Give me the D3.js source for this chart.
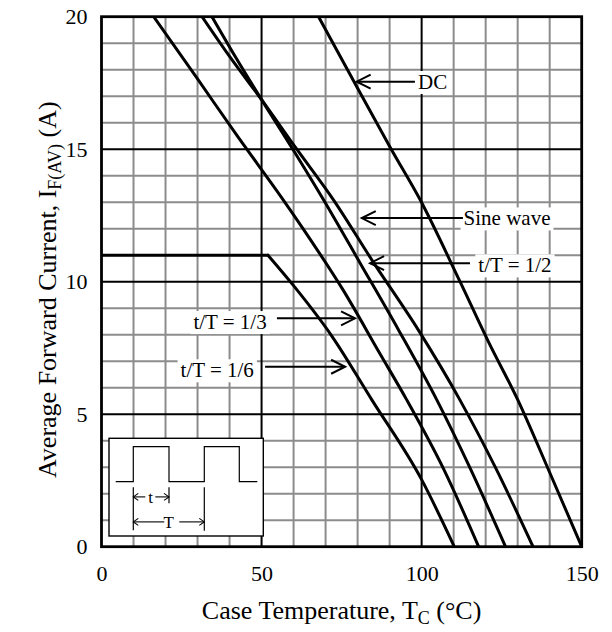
<!DOCTYPE html>
<html>
<head>
<meta charset="utf-8">
<script src="https://cdn.jsdelivr.net/npm/d3@7"></script>
<style>
  html, body { margin: 0; padding: 0; background: #fff; }
  svg { display: block; }
  text { font-family: "Liberation Serif", "Times New Roman", serif; fill: #000; }
</style>
</head>
<body>
<svg id="chart" width="612" height="632"></svg>
<script>
// ---------------- data ----------------
const xTicks = [0, 50, 100, 150];
const yTicks = [0, 5, 10, 15, 20];
const xMinor = d3.range(0, 151, 10);
const yMinor = d3.range(0, 21, 1);
const xMajor = [50, 100];
const yMajor = [5, 10, 15];

// Case temperature (°C) and average forward current (A)
const dcT   = [67.8, 80, 90.5, 99.5, 112, 121, 130, 140, 150];
const dcI   = [20, 17.3, 15, 13.1, 10, 7.7, 5.55, 2.8, 0];
const sineT = [31.4, 40, 50, 61, 72.4, 85.1, 98.9, 111.9, 123, 134.8];
const sineI = [20, 18.5, 16.87, 15.0, 13.1, 10.7, 8.19, 5.55, 3.0, 0];
const halfT = [34.5, 42, 50, 60, 69.3, 80.8, 92.7, 104.7, 115, 126.2];
const halfI = [20, 18.45, 16.87, 14.95, 13.1, 10.7, 8.2, 5.55, 3.0, 0];
const thirdT = [16.3, 30, 42.3, 56.7, 65.2, 75.4, 86.9, 95.3, 107, 117.8];
const thirdI = [20, 17.65, 15.52, 13.1, 11.6, 9.7, 7.3, 5.55, 2.9, 0];
const sixthFlatT = [0, 52];
const sixthFlatI = [11, 11];
const sixthT = [52, 60, 72, 84.4, 100, 110.2];
const sixthI = [11, 9.85, 7.94, 5.55, 2.53, 0];

const seriesNames = ["DC", "Sine wave", "t/T = 1/2", "t/T = 1/3", "t/T = 1/6"];
// annotation arrows: tip (T, I), tail T, label anchor T, label I, side
const annTipT  = [79.7, 81.3, 83.9, 79.2, 76.1];
const annTipI  = [17.55, 12.4, 10.7, 8.62, 6.79];
const annTailT = [97.9, 112.9, 115.1, 54.8, 51.1];
const annTextT = [98.9, 113.1, 117.7, 51.6, 47.6];
const annTextI = [17.55, 12.4, 10.63, 8.49, 6.67];
const annSide  = ["start", "start", "start", "end", "end"];

// ---------------- layout ----------------
const svg = d3.select("#chart");
const X0 = 101.5, X1 = 581.7, Y0 = 546.7, Y1 = 16.7;
const x = d3.scaleLinear().domain([0, 150]).range([X0, X1]);
const y = d3.scaleLinear().domain([0, 20]).range([Y0, Y1]);

const gGrid = svg.append("g");
// minor grid (gray)
gGrid.selectAll("line.vmin").data(xMinor.filter(v => v > 0 && v < 150 && !xMajor.includes(v)))
  .join("line").attr("x1", d => x(d)).attr("x2", d => x(d)).attr("y1", Y1).attr("y2", Y0)
  .attr("stroke", "#8c8c8c").attr("stroke-width", 2);
gGrid.selectAll("line.hmin").data(yMinor.filter(v => v > 0 && v < 20 && !yMajor.includes(v)))
  .join("line").attr("x1", X0).attr("x2", X1).attr("y1", d => y(d)).attr("y2", d => y(d))
  .attr("stroke", "#8c8c8c").attr("stroke-width", 2);
// major grid (black)
gGrid.selectAll("line.vmaj").data(xMajor)
  .join("line").attr("x1", d => x(d)).attr("x2", d => x(d)).attr("y1", Y1).attr("y2", Y0)
  .attr("stroke", "#000").attr("stroke-width", 2);
gGrid.selectAll("line.hmaj").data(yMajor)
  .join("line").attr("x1", X0).attr("x2", X1).attr("y1", d => y(d)).attr("y2", d => y(d))
  .attr("stroke", "#000").attr("stroke-width", 2);

// ---------------- inset (waveform diagram) ----------------
const inset = svg.append("g");
const bx = X0 + 7.5, by = Y0 - 108.4, bw = 154.3, bh = 97.7;
inset.append("rect").attr("x", bx).attr("y", by).attr("width", bw).attr("height", bh)
  .attr("fill", "#fff").attr("stroke", "#000").attr("stroke-width", 1.4);
const lo = by + 43.4, hi = by + 8.4;
const wx = [bx + 6.7, bx + 24.3, bx + 60, bx + 95.3, bx + 130.3, bx + 148.3];
inset.append("path")
  .attr("d", `M${wx[0]},${lo}H${wx[1]}V${hi}H${wx[2]}V${lo}H${wx[3]}V${hi}H${wx[4]}V${lo}H${wx[5]}`)
  .attr("fill", "none").attr("stroke", "#000").attr("stroke-width", 1.2);
const mTop = lo + 5.5;
[[wx[1], 43], [wx[2], 16], [wx[3], 43.5]].forEach(([mx, len]) => {
  inset.append("line").attr("x1", mx).attr("x2", mx).attr("y1", mTop).attr("y2", mTop + len)
    .attr("stroke", "#000").attr("stroke-width", 1.2);
});
function smallArrow(g, xa, xb, yy) { // line from xa to xb, head at xb
  g.append("line").attr("x1", xa).attr("x2", xb).attr("y1", yy).attr("y2", yy)
    .attr("stroke", "#000").attr("stroke-width", 1.1);
  const dir = xb > xa ? -1 : 1;
  g.append("path").attr("d", `M${xb + dir * 5},${yy - 3.5}L${xb},${yy}L${xb + dir * 5},${yy + 3.5}`)
    .attr("fill", "none").attr("stroke", "#000").attr("stroke-width", 1.1);
}
const tY = mTop + 9.7, TY = mTop + 34.7;
smallArrow(inset, wx[1] + 12, wx[1], tY);
smallArrow(inset, wx[1] + 22, wx[2], tY);
inset.append("text").attr("x", (wx[1] + wx[2]) / 2 - 0.5).attr("y", tY).attr("dy", "0.33em")
  .attr("text-anchor", "middle").attr("font-size", 17).text("t");
smallArrow(inset, wx[1] + 31, wx[1], TY);
smallArrow(inset, wx[1] + 46, wx[3], TY);
inset.append("text").attr("x", (wx[1] + wx[3]) / 2).attr("y", TY).attr("dy", "0.35em")
  .attr("text-anchor", "middle").attr("font-size", 17).text("T");

// ---------------- annotation boxes + arrows ----------------
const gAnn = svg.append("g");
seriesNames.forEach((name, i) => {
  const t = gAnn.append("text")
    .attr("x", x(annTextT[i])).attr("y", y(annTextI[i])).attr("dy", "0.35em")
    .attr("text-anchor", annSide[i]).attr("font-size", 21).text(name);
  const bb = t.node().getBBox();
  gAnn.insert("rect", "text")
    .attr("x", bb.x - 3).attr("y", bb.y + 1).attr("width", bb.width + 6).attr("height", bb.height - 1)
    .attr("fill", "#fff");
});
const gArr = svg.append("g");
seriesNames.forEach((name, i) => {
  const xt = x(annTipT[i]), yt = y(annTipI[i]), xa = x(annTailT[i]);
  gArr.append("line").attr("x1", xa).attr("x2", xt).attr("y1", yt).attr("y2", yt)
    .attr("stroke", "#000").attr("stroke-width", 2);
  const dir = xa > xt ? 1 : -1;
  gArr.append("path")
    .attr("d", `M${xt + dir * 14},${yt - 7}L${xt},${yt}L${xt + dir * 14},${yt + 7}`)
    .attr("fill", "none").attr("stroke", "#000").attr("stroke-width", 2);
});

// ---------------- curves ----------------
svg.append("clipPath").attr("id", "clip").append("rect")
  .attr("x", X0).attr("y", Y1).attr("width", X1 - X0).attr("height", Y0 - Y1);
const smooth = d3.line().x(d => x(d[0])).y(d => y(d[1])).curve(d3.curveMonotoneX);
const curves = [
  d3.zip(dcT, dcI), d3.zip(sineT, sineI), d3.zip(halfT, halfI),
  d3.zip(thirdT, thirdI), d3.zip(sixthFlatT, sixthFlatI), d3.zip(sixthT, sixthI)
];
svg.append("g").attr("clip-path", "url(#clip)")
  .selectAll("path").data(curves).join("path")
  .attr("d", smooth).attr("fill", "none").attr("stroke", "#000")
  .attr("stroke-width", 3).attr("stroke-linejoin", "round").attr("stroke-linecap", "round");

// ---------------- frame ----------------
svg.append("rect").attr("x", X0).attr("y", Y1).attr("width", X1 - X0).attr("height", Y0 - Y1)
  .attr("fill", "none").attr("stroke", "#000").attr("stroke-width", 2.8);

// ---------------- axes ----------------
const xAxis = svg.append("g").attr("transform", `translate(0,${Y0})`)
  .call(d3.axisBottom(x).tickValues(xTicks).tickSize(0).tickPadding(19).tickFormat(d3.format("d")));
const yAxis = svg.append("g").attr("transform", `translate(${X0},0)`)
  .call(d3.axisLeft(y).tickValues(yTicks).tickSize(0).tickPadding(14).tickFormat(d3.format("d")));
[xAxis, yAxis].forEach(a => {
  a.select(".domain").remove();
  a.selectAll("text").attr("font-size", 22).attr("font-family", "Liberation Serif, Times New Roman, serif").attr("fill", "#000");
});

// ---------------- titles ----------------
const xt = svg.append("text").attr("x", (X0 + X1) / 2).attr("y", 619)
  .attr("text-anchor", "middle").attr("font-size", 26);
xt.append("tspan").text("Case Temperature, T");
xt.append("tspan").attr("font-size", 18).attr("dy", 5).text("C");
xt.append("tspan").attr("dy", -5).text(" (°C)");

const yt = svg.append("text").attr("transform", `translate(56,${(Y0 + Y1) / 2 + 8}) rotate(-90)`)
  .attr("text-anchor", "middle").attr("font-size", 26);
yt.append("tspan").text("Average Forward Current, I");
yt.append("tspan").attr("font-size", 18).attr("dy", 5).text("F(AV)");
yt.append("tspan").attr("dy", -5).text(" (A)");
</script>
</body>
</html>
